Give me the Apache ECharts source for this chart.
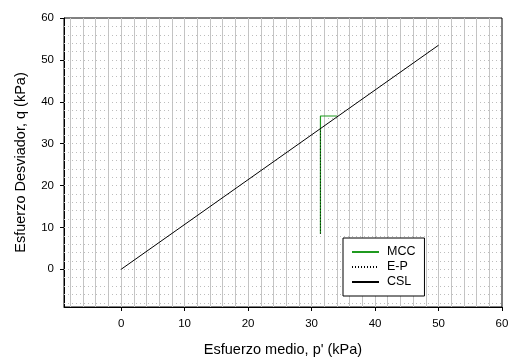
<!DOCTYPE html>
<html><head><meta charset="utf-8">
<script src="https://cdn.jsdelivr.net/npm/echarts@6/dist/echarts.min.js"></script>
<style>html,body{margin:0;padding:0;background:#fff}#c{width:510px;height:358px}</style>
</head><body><div id="c"></div>
<script>
const xTicks = [0, 10, 20, 30, 40, 50, 60];
const yTicks = [0, 10, 20, 30, 40, 50, 60];
const minorStep = 2;
const mccP = [31.4, 31.4, 34.0];
const mccQ = [8.5, 36.6, 36.6];
const epP = [31.4, 31.4];
const epQ = [8.5, 33.6];
const cslP = [0, 50];
const cslQ = [0, 53.5];
const zip = (a, b) => a.map((v, i) => [v, b[i]]);
const minorTicks = [];
for (let v = -8; v < 60; v += minorStep) minorTicks.push(v);
const FONT = 'Liberation Sans, Arial, sans-serif';
const gridLines = minorTicks.map(v => ({xAxis: v, lineStyle: {color: '#c4c4c4', width: 1, type: 'solid'}}))
  .concat(minorTicks.map(v => ({yAxis: v, lineStyle: {color: '#bdbdbd', width: 1, type: [1, 3]}})));
const chart = echarts.init(document.getElementById('c'), null, {renderer: 'canvas'});
chart.setOption({
  animation: false,
  backgroundColor: '#fff',
  grid: {left: 64, top: 18, right: 8, bottom: 51, outerBoundsMode: 'none', containLabel: false, show: true, borderColor: '#000', borderWidth: 1, backgroundColor: 'transparent'},
  xAxis: {
    type: 'value', min: -9, max: 60,
    name: "Esfuerzo medio, p' (kPa)", nameLocation: 'middle', nameGap: 35,
    nameTextStyle: {fontFamily: FONT, fontSize: 14.5, color: '#000'},
    axisLine: {show: true, onZero: false, lineStyle: {color: '#000', width: 1}},
    axisTick: {show: true, customValues: xTicks, length: 4, lineStyle: {color: '#000'}},
    axisLabel: {customValues: xTicks, fontFamily: FONT, fontSize: 11.5, color: '#000', margin: 11},
    splitLine: {show: false}
  },
  yAxis: {
    type: 'value', min: -9, max: 60,
    name: 'Esfuerzo Desviador, q (kPa)', nameLocation: 'middle', nameGap: 36,
    nameTextStyle: {fontFamily: FONT, fontSize: 14.5, color: '#000'},
    axisLine: {show: true, onZero: false, lineStyle: {color: '#000', width: 1}},
    axisTick: {show: true, customValues: yTicks, length: 4, lineStyle: {color: '#000'}},
    axisLabel: {customValues: yTicks, fontFamily: FONT, fontSize: 11.5, color: '#000', margin: 10},
    splitLine: {show: false}
  },
  legend: {
    orient: 'vertical', left: 343, top: 238,
    backgroundColor: '#fff', borderColor: '#000', borderWidth: 1,
    padding: [7, 9, 7, 8], itemWidth: 27, itemHeight: 10, itemGap: 1,
    itemStyle: {opacity: 0},
    textStyle: {fontFamily: FONT, fontSize: 12.5, color: '#000', lineHeight: 14, padding: [0, 0, 0, 3]},
    data: ['MCC', 'E-P', 'CSL']
  },
  series: [
    {name: 'MCC', type: 'line', z: 3, data: zip(mccP, mccQ), symbol: 'none', lineStyle: {color: '#1f9a1f', width: 1.2}, itemStyle: {color: '#1f9a1f'}},
    {name: 'E-P', type: 'line', z: 4, data: zip(epP, epQ), symbol: 'none', lineStyle: {color: '#000', width: 1, type: [1, 2]}, itemStyle: {color: '#000'}},
    {name: 'CSL', type: 'line', z: 3, data: zip(cslP, cslQ), symbol: 'none', lineStyle: {color: '#000', width: 1}, itemStyle: {color: '#000'},
     markLine: {silent: true, z: 1, animation: false, symbol: ['none', 'none'], label: {show: false}, emphasis: {disabled: true}, data: gridLines}}
  ]
});
</script></body></html>
